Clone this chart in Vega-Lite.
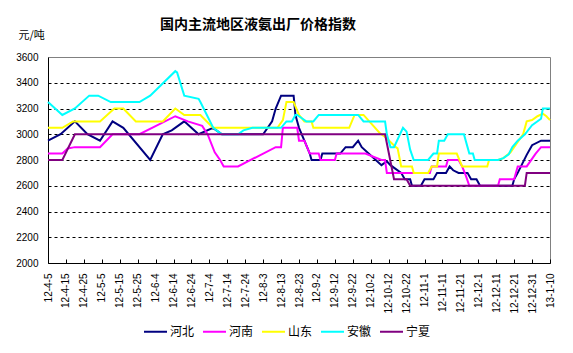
{
  "$schema": "https://vega.github.io/schema/vega-lite/v6.json",
  "width": 502,
  "height": 206,
  "autosize": "none",
  "padding": {"left": 48, "top": 57, "right": 23, "bottom": 90},
  "background": "white",
  "title": {
    "text": "国内主流地区液氨出厂价格指数",
    "font": "Noto Sans CJK SC",
    "fontSize": 14,
    "fontWeight": "bold",
    "color": "black",
    "anchor": "middle",
    "frame": "group",
    "baseline": "top",
    "dx": -41,
    "dy": 3,
    "offset": 0
  },
  "config": {
    "view": {"stroke": "#808080", "strokeWidth": 1},
    "axis": {"domainColor": "black", "domainWidth": 1, "labelColor": "black", "labelFont": "Liberation Sans", "labelFontSize": 10}
  },
  "data": {
    "values": [
      {"region": "河北", "date": "2012-04-05", "price": 2950},
      {"region": "河北", "date": "2012-04-12", "price": 3000},
      {"region": "河北", "date": "2012-04-20", "price": 3100},
      {"region": "河北", "date": "2012-04-27", "price": 3000},
      {"region": "河北", "date": "2012-05-04", "price": 2950},
      {"region": "河北", "date": "2012-05-11", "price": 3100},
      {"region": "河北", "date": "2012-05-17", "price": 3050},
      {"region": "河北", "date": "2012-06-01", "price": 2800},
      {"region": "河北", "date": "2012-06-08", "price": 3000},
      {"region": "河北", "date": "2012-06-13", "price": 3030},
      {"region": "河北", "date": "2012-06-20", "price": 3100},
      {"region": "河北", "date": "2012-06-28", "price": 3000},
      {"region": "河北", "date": "2012-07-06", "price": 3050},
      {"region": "河北", "date": "2012-07-11", "price": 3000},
      {"region": "河北", "date": "2012-08-03", "price": 3000},
      {"region": "河北", "date": "2012-08-08", "price": 3100},
      {"region": "河北", "date": "2012-08-10", "price": 3200},
      {"region": "河北", "date": "2012-08-13", "price": 3300},
      {"region": "河北", "date": "2012-08-20", "price": 3300},
      {"region": "河北", "date": "2012-08-21", "price": 3150},
      {"region": "河北", "date": "2012-08-23", "price": 3050},
      {"region": "河北", "date": "2012-08-26", "price": 2950},
      {"region": "河北", "date": "2012-08-29", "price": 2850},
      {"region": "河北", "date": "2012-08-30", "price": 2800},
      {"region": "河北", "date": "2012-09-04", "price": 2800},
      {"region": "河北", "date": "2012-09-05", "price": 2850},
      {"region": "河北", "date": "2012-09-15", "price": 2850},
      {"region": "河北", "date": "2012-09-18", "price": 2900},
      {"region": "河北", "date": "2012-09-22", "price": 2900},
      {"region": "河北", "date": "2012-09-25", "price": 2950},
      {"region": "河北", "date": "2012-09-27", "price": 2900},
      {"region": "河北", "date": "2012-10-08", "price": 2760},
      {"region": "河北", "date": "2012-10-11", "price": 2790},
      {"region": "河北", "date": "2012-10-13", "price": 2760},
      {"region": "河北", "date": "2012-10-19", "price": 2700},
      {"region": "河北", "date": "2012-10-21", "price": 2650},
      {"region": "河北", "date": "2012-10-24", "price": 2650},
      {"region": "河北", "date": "2012-10-25", "price": 2600},
      {"region": "河北", "date": "2012-10-30", "price": 2600},
      {"region": "河北", "date": "2012-11-01", "price": 2650},
      {"region": "河北", "date": "2012-11-06", "price": 2650},
      {"region": "河北", "date": "2012-11-08", "price": 2700},
      {"region": "河北", "date": "2012-11-13", "price": 2700},
      {"region": "河北", "date": "2012-11-15", "price": 2750},
      {"region": "河北", "date": "2012-11-17", "price": 2720},
      {"region": "河北", "date": "2012-11-20", "price": 2700},
      {"region": "河北", "date": "2012-11-25", "price": 2700},
      {"region": "河北", "date": "2012-11-27", "price": 2650},
      {"region": "河北", "date": "2012-11-30", "price": 2650},
      {"region": "河北", "date": "2012-12-02", "price": 2600},
      {"region": "河北", "date": "2012-12-20", "price": 2600},
      {"region": "河北", "date": "2012-12-21", "price": 2650},
      {"region": "河北", "date": "2012-12-23", "price": 2700},
      {"region": "河北", "date": "2012-12-28", "price": 2840},
      {"region": "河北", "date": "2012-12-31", "price": 2915},
      {"region": "河北", "date": "2013-01-05", "price": 2950},
      {"region": "河北", "date": "2013-01-10", "price": 2950},

      {"region": "河南", "date": "2012-04-05", "price": 2850},
      {"region": "河南", "date": "2012-04-13", "price": 2850},
      {"region": "河南", "date": "2012-04-16", "price": 2890},
      {"region": "河南", "date": "2012-04-20", "price": 2900},
      {"region": "河南", "date": "2012-05-04", "price": 2900},
      {"region": "河南", "date": "2012-05-11", "price": 3000},
      {"region": "河南", "date": "2012-05-26", "price": 3000},
      {"region": "河南", "date": "2012-06-15", "price": 3140},
      {"region": "河南", "date": "2012-06-22", "price": 3100},
      {"region": "河南", "date": "2012-06-30", "price": 3065},
      {"region": "河南", "date": "2012-07-03", "price": 3000},
      {"region": "河南", "date": "2012-07-07", "price": 2860},
      {"region": "河南", "date": "2012-07-10", "price": 2800},
      {"region": "河南", "date": "2012-07-12", "price": 2750},
      {"region": "河南", "date": "2012-07-20", "price": 2750},
      {"region": "河南", "date": "2012-08-10", "price": 2900},
      {"region": "河南", "date": "2012-08-13", "price": 2900},
      {"region": "河南", "date": "2012-08-14", "price": 3050},
      {"region": "河南", "date": "2012-08-22", "price": 3050},
      {"region": "河南", "date": "2012-08-23", "price": 2950},
      {"region": "河南", "date": "2012-08-26", "price": 2950},
      {"region": "河南", "date": "2012-08-29", "price": 2850},
      {"region": "河南", "date": "2012-09-03", "price": 2850},
      {"region": "河南", "date": "2012-09-04", "price": 2800},
      {"region": "河南", "date": "2012-09-12", "price": 2800},
      {"region": "河南", "date": "2012-09-13", "price": 2850},
      {"region": "河南", "date": "2012-09-29", "price": 2850},
      {"region": "河南", "date": "2012-10-08", "price": 2800},
      {"region": "河南", "date": "2012-10-10", "price": 2800},
      {"region": "河南", "date": "2012-10-11", "price": 2700},
      {"region": "河南", "date": "2012-11-04", "price": 2700},
      {"region": "河南", "date": "2012-11-05", "price": 2750},
      {"region": "河南", "date": "2012-11-13", "price": 2750},
      {"region": "河南", "date": "2012-11-14", "price": 2800},
      {"region": "河南", "date": "2012-11-20", "price": 2800},
      {"region": "河南", "date": "2012-11-22", "price": 2750},
      {"region": "河南", "date": "2012-11-24", "price": 2680},
      {"region": "河南", "date": "2012-11-26", "price": 2600},
      {"region": "河南", "date": "2012-12-12", "price": 2600},
      {"region": "河南", "date": "2012-12-13", "price": 2650},
      {"region": "河南", "date": "2012-12-21", "price": 2650},
      {"region": "河南", "date": "2012-12-23", "price": 2750},
      {"region": "河南", "date": "2012-12-28", "price": 2750},
      {"region": "河南", "date": "2013-01-02", "price": 2850},
      {"region": "河南", "date": "2013-01-05", "price": 2900},
      {"region": "河南", "date": "2013-01-10", "price": 2900},

      {"region": "山东", "date": "2012-04-05", "price": 3050},
      {"region": "山东", "date": "2012-04-13", "price": 3050},
      {"region": "山东", "date": "2012-04-19", "price": 3100},
      {"region": "山东", "date": "2012-05-04", "price": 3100},
      {"region": "山东", "date": "2012-05-12", "price": 3200},
      {"region": "山东", "date": "2012-05-17", "price": 3200},
      {"region": "山东", "date": "2012-05-24", "price": 3100},
      {"region": "山东", "date": "2012-06-08", "price": 3100},
      {"region": "山东", "date": "2012-06-15", "price": 3200},
      {"region": "山东", "date": "2012-06-20", "price": 3150},
      {"region": "山东", "date": "2012-06-29", "price": 3150},
      {"region": "山东", "date": "2012-07-06", "price": 3050},
      {"region": "山东", "date": "2012-08-11", "price": 3050},
      {"region": "山东", "date": "2012-08-14", "price": 3110},
      {"region": "山东", "date": "2012-08-16", "price": 3250},
      {"region": "山东", "date": "2012-08-20", "price": 3250},
      {"region": "山东", "date": "2012-08-23", "price": 3150},
      {"region": "山东", "date": "2012-08-26", "price": 3100},
      {"region": "山东", "date": "2012-08-30", "price": 3100},
      {"region": "山东", "date": "2012-08-31", "price": 3050},
      {"region": "山东", "date": "2012-09-20", "price": 3050},
      {"region": "山东", "date": "2012-09-23", "price": 3150},
      {"region": "山东", "date": "2012-09-28", "price": 3150},
      {"region": "山东", "date": "2012-10-07", "price": 3010},
      {"region": "山东", "date": "2012-10-10", "price": 2980},
      {"region": "山东", "date": "2012-10-13", "price": 2940},
      {"region": "山东", "date": "2012-10-16", "price": 2900},
      {"region": "山东", "date": "2012-10-17", "price": 2890},
      {"region": "山东", "date": "2012-10-19", "price": 2750},
      {"region": "山东", "date": "2012-10-25", "price": 2750},
      {"region": "山东", "date": "2012-10-26", "price": 2700},
      {"region": "山东", "date": "2012-11-03", "price": 2700},
      {"region": "山东", "date": "2012-11-05", "price": 2750},
      {"region": "山东", "date": "2012-11-08", "price": 2750},
      {"region": "山东", "date": "2012-11-09", "price": 2850},
      {"region": "山东", "date": "2012-11-19", "price": 2850},
      {"region": "山东", "date": "2012-11-22", "price": 2750},
      {"region": "山东", "date": "2012-12-06", "price": 2750},
      {"region": "山东", "date": "2012-12-07", "price": 2800},
      {"region": "山东", "date": "2012-12-12", "price": 2800},
      {"region": "山东", "date": "2012-12-15", "price": 2815},
      {"region": "山东", "date": "2012-12-19", "price": 2860},
      {"region": "山东", "date": "2012-12-24", "price": 2960},
      {"region": "山东", "date": "2012-12-26", "price": 3000},
      {"region": "山东", "date": "2012-12-28", "price": 3100},
      {"region": "山东", "date": "2012-12-31", "price": 3110},
      {"region": "山东", "date": "2013-01-03", "price": 3140},
      {"region": "山东", "date": "2013-01-06", "price": 3160},
      {"region": "山东", "date": "2013-01-08", "price": 3140},
      {"region": "山东", "date": "2013-01-10", "price": 3110},

      {"region": "安徽", "date": "2012-04-05", "price": 3250},
      {"region": "安徽", "date": "2012-04-13", "price": 3150},
      {"region": "安徽", "date": "2012-04-20", "price": 3200},
      {"region": "安徽", "date": "2012-04-28", "price": 3300},
      {"region": "安徽", "date": "2012-05-03", "price": 3300},
      {"region": "安徽", "date": "2012-05-10", "price": 3250},
      {"region": "安徽", "date": "2012-05-26", "price": 3250},
      {"region": "安徽", "date": "2012-06-01", "price": 3300},
      {"region": "安徽", "date": "2012-06-15", "price": 3490},
      {"region": "安徽", "date": "2012-06-16", "price": 3480},
      {"region": "安徽", "date": "2012-06-20", "price": 3300},
      {"region": "安徽", "date": "2012-06-28", "price": 3275},
      {"region": "安徽", "date": "2012-06-29", "price": 3250},
      {"region": "安徽", "date": "2012-07-06", "price": 3055},
      {"region": "安徽", "date": "2012-07-08", "price": 3030},
      {"region": "安徽", "date": "2012-07-11", "price": 3000},
      {"region": "安徽", "date": "2012-07-20", "price": 3000},
      {"region": "安徽", "date": "2012-07-23", "price": 3030},
      {"region": "安徽", "date": "2012-07-28", "price": 3050},
      {"region": "安徽", "date": "2012-08-13", "price": 3050},
      {"region": "安徽", "date": "2012-08-16", "price": 3100},
      {"region": "安徽", "date": "2012-08-19", "price": 3100},
      {"region": "安徽", "date": "2012-08-21", "price": 3150},
      {"region": "安徽", "date": "2012-08-22", "price": 3150},
      {"region": "安徽", "date": "2012-08-25", "price": 3120},
      {"region": "安徽", "date": "2012-08-27", "price": 3100},
      {"region": "安徽", "date": "2012-08-31", "price": 3100},
      {"region": "安徽", "date": "2012-09-03", "price": 3150},
      {"region": "安徽", "date": "2012-09-25", "price": 3150},
      {"region": "安徽", "date": "2012-09-28", "price": 3100},
      {"region": "安徽", "date": "2012-10-10", "price": 3100},
      {"region": "安徽", "date": "2012-10-11", "price": 3000},
      {"region": "安徽", "date": "2012-10-13", "price": 2900},
      {"region": "安徽", "date": "2012-10-15", "price": 2900},
      {"region": "安徽", "date": "2012-10-20", "price": 3050},
      {"region": "安徽", "date": "2012-10-22", "price": 3020},
      {"region": "安徽", "date": "2012-10-24", "price": 2880},
      {"region": "安徽", "date": "2012-10-26", "price": 2800},
      {"region": "安徽", "date": "2012-11-03", "price": 2800},
      {"region": "安徽", "date": "2012-11-06", "price": 2850},
      {"region": "安徽", "date": "2012-11-08", "price": 2850},
      {"region": "安徽", "date": "2012-11-09", "price": 2950},
      {"region": "安徽", "date": "2012-11-12", "price": 2950},
      {"region": "安徽", "date": "2012-11-14", "price": 3000},
      {"region": "安徽", "date": "2012-11-23", "price": 3000},
      {"region": "安徽", "date": "2012-11-25", "price": 2900},
      {"region": "安徽", "date": "2012-11-26", "price": 2850},
      {"region": "安徽", "date": "2012-11-28", "price": 2850},
      {"region": "安徽", "date": "2012-11-29", "price": 2800},
      {"region": "安徽", "date": "2012-12-12", "price": 2800},
      {"region": "安徽", "date": "2012-12-15", "price": 2815},
      {"region": "安徽", "date": "2012-12-18", "price": 2845},
      {"region": "安徽", "date": "2012-12-20", "price": 2900},
      {"region": "安徽", "date": "2012-12-23", "price": 2950},
      {"region": "安徽", "date": "2012-12-27", "price": 3000},
      {"region": "安徽", "date": "2012-12-31", "price": 3070},
      {"region": "安徽", "date": "2013-01-05", "price": 3120},
      {"region": "安徽", "date": "2013-01-06", "price": 3200},
      {"region": "安徽", "date": "2013-01-10", "price": 3200},

      {"region": "宁夏", "date": "2012-04-05", "price": 2800},
      {"region": "宁夏", "date": "2012-04-13", "price": 2800},
      {"region": "宁夏", "date": "2012-04-20", "price": 3000},
      {"region": "宁夏", "date": "2012-10-10", "price": 3000},
      {"region": "宁夏", "date": "2012-10-15", "price": 2650},
      {"region": "宁夏", "date": "2012-10-22", "price": 2650},
      {"region": "宁夏", "date": "2012-10-24", "price": 2600},
      {"region": "宁夏", "date": "2012-12-27", "price": 2600},
      {"region": "宁夏", "date": "2012-12-28", "price": 2700},
      {"region": "宁夏", "date": "2013-01-10", "price": 2700}
    ]
  },
  "mark": {"type": "line", "strokeWidth": 2},
  "encoding": {
    "x": {
      "field": "date",
      "type": "temporal",
      "scale": {
        "type": "utc",
        "domain": [
          {"year": 2012, "month": 4, "date": 5, "utc": true},
          {"year": 2013, "month": 1, "date": 10, "utc": true}
        ]
      },
      "axis": {
        "title": null,
        "format": "%y-%-m-%-d",
        "labelAngle": -90,
        "labelOverlap": false,
        "labelFlush": false,
        "grid": false,
        "tickSize": -4,
        "tickColor": "black",
        "labelPadding": 14,
        "values": [
          {"year": 2012, "month": 4, "date": 5, "utc": true},
          {"year": 2012, "month": 4, "date": 15, "utc": true},
          {"year": 2012, "month": 4, "date": 25, "utc": true},
          {"year": 2012, "month": 5, "date": 5, "utc": true},
          {"year": 2012, "month": 5, "date": 15, "utc": true},
          {"year": 2012, "month": 5, "date": 25, "utc": true},
          {"year": 2012, "month": 6, "date": 4, "utc": true},
          {"year": 2012, "month": 6, "date": 14, "utc": true},
          {"year": 2012, "month": 6, "date": 24, "utc": true},
          {"year": 2012, "month": 7, "date": 4, "utc": true},
          {"year": 2012, "month": 7, "date": 14, "utc": true},
          {"year": 2012, "month": 7, "date": 24, "utc": true},
          {"year": 2012, "month": 8, "date": 3, "utc": true},
          {"year": 2012, "month": 8, "date": 13, "utc": true},
          {"year": 2012, "month": 8, "date": 23, "utc": true},
          {"year": 2012, "month": 9, "date": 2, "utc": true},
          {"year": 2012, "month": 9, "date": 12, "utc": true},
          {"year": 2012, "month": 9, "date": 22, "utc": true},
          {"year": 2012, "month": 10, "date": 2, "utc": true},
          {"year": 2012, "month": 10, "date": 12, "utc": true},
          {"year": 2012, "month": 10, "date": 22, "utc": true},
          {"year": 2012, "month": 11, "date": 1, "utc": true},
          {"year": 2012, "month": 11, "date": 11, "utc": true},
          {"year": 2012, "month": 11, "date": 21, "utc": true},
          {"year": 2012, "month": 12, "date": 1, "utc": true},
          {"year": 2012, "month": 12, "date": 11, "utc": true},
          {"year": 2012, "month": 12, "date": 21, "utc": true},
          {"year": 2012, "month": 12, "date": 31, "utc": true},
          {"year": 2013, "month": 1, "date": 10, "utc": true}
        ]
      }
    },
    "y": {
      "field": "price",
      "type": "quantitative",
      "scale": {"domain": [2000, 3600], "nice": false, "zero": false},
      "axis": {
        "title": "元/吨",
        "titleAngle": 0,
        "titleX": -30,
        "titleY": -22,
        "titleAlign": "left",
        "titleBaseline": "middle",
        "titleFont": "Noto Sans CJK SC",
        "titleFontSize": 11,
        "titleFontWeight": "normal",
        "titleColor": "black",
        "values": [2000, 2200, 2400, 2600, 2800, 3000, 3200, 3400, 3600],
        "format": "d",
        "ticks": false,
        "labelPadding": 10,
        "grid": true,
        "gridColor": "black",
        "gridDash": [3, 3],
        "gridWidth": 1,
        "gridOpacity": {"condition": {"test": "datum.value === 2000 || datum.value === 3600", "value": 0}, "value": 1}
      }
    },
    "color": {
      "field": "region",
      "type": "nominal",
      "scale": {
        "domain": ["河北", "河南", "山东", "安徽", "宁夏"],
        "range": ["#000080", "#FF00FF", "#FFFF00", "#00FFFF", "#800080"]
      },
      "legend": {
        "orient": "none",
        "legendX": 95,
        "legendY": 262,
        "direction": "horizontal",
        "title": null,
        "symbolType": "stroke",
        "symbolSize": 529,
        "symbolStrokeWidth": 2,
        "labelFont": "Noto Sans CJK SC",
        "labelFontSize": 12,
        "labelColor": "black",
        "labelOffset": 2,
        "columnPadding": 4
      }
    }
  }
}
